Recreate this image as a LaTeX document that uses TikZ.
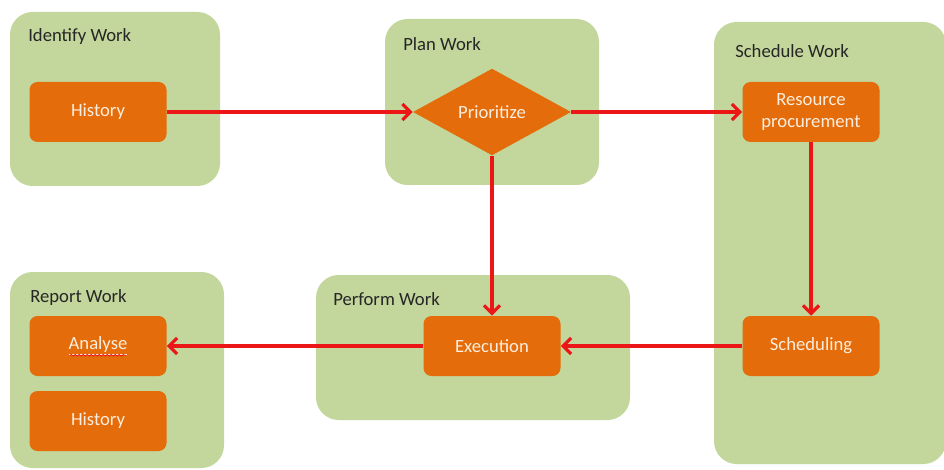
\documentclass[tikz,border=0pt]{standalone}
\usepackage{fontspec}
\setmainfont{Carlito}
\usetikzlibrary{arrows.meta}
\usetikzlibrary{shapes.geometric}
\usetikzlibrary{decorations.pathmorphing}

\definecolor{phasegreen}{RGB}{195,214,155}
\definecolor{taskorange}{RGB}{228,108,10}
\definecolor{tasktext}{RGB}{252,238,222}
\definecolor{flowred}{RGB}{236,22,22}
\definecolor{labelgray}{RGB}{38,38,38}

\tikzset{
  phase/.style={fill=phasegreen, rounded corners=17pt},
  phaselabel/.style={anchor=west, inner sep=0pt, text=labelgray},
  task/.style={rectangle, rounded corners=6pt, fill=taskorange, text=tasktext,
    minimum width=102.75pt, minimum height=45pt, align=center, inner sep=0pt},
  decision/.style={diamond, fill=taskorange, text=tasktext, aspect=1.8,
    minimum width=118.5pt, minimum height=65pt, inner sep=0pt},
  flow/.style={draw=flowred, line width=2.4pt, -{Straight Barb[length=6pt, width=12pt]}}
}

\begin{document}
\begin{tikzpicture}[x=0.75pt, y=-0.75pt, font=\fontsize{14}{16}\selectfont]

\useasboundingbox (0,0) rectangle (944,470);

% phases
\fill[phase] (10,12) rectangle (220,186);
\fill[phase] (385,19) rectangle (599,185);
\fill[phase] (714,22) rectangle (946,464);
\fill[phase] (10,272) rectangle (224,468);
\fill[phase] (316,275) rectangle (630,420);

\node[phaselabel] (l_ident) at (28,37) {Identify Work};
\node[phaselabel] (l_plan) at (403,44) {Plan Work};
\node[phaselabel] (l_sched) at (735,51) {Schedule Work};
\node[phaselabel] (l_report) at (30,298) {Report Work};
\node[phaselabel] (l_perform) at (333,299) {Perform Work};

% tasks
\node[task] (hist) at (98,112) {History};
\node[decision, right of=hist, node distance=295.5pt] (prio) {Prioritize};
\node[task, right of=prio, node distance=239.25pt] (res) {Resource\\procurement};
\node[task, below of=res, node distance=175.5pt] (sched) {Scheduling};
\node[task, below of=prio, node distance=175.5pt] (exec) {Execution};
\node[task, below of=hist, node distance=175.5pt] (anal) {\underline{Analyse}};
\node[task, below of=anal, node distance=56.25pt] (hist_r) {History};

\draw[flowred, line width=0.6pt, decorate, decoration={snake, amplitude=0.6pt, segment length=3pt}]
  ([xshift=-21pt, yshift=-7pt]anal.center) -- ([xshift=21pt, yshift=-7pt]anal.center);

% flow
\draw[flow] (hist) -- (prio);
\draw[flow] (prio) -- (res);
\draw[flow] (res) -- (sched);
\draw[flow] (prio) -- (exec);
\draw[flow] (sched) -- (exec);
\draw[flow] (exec) -- (anal);

\end{tikzpicture}
\end{document}
